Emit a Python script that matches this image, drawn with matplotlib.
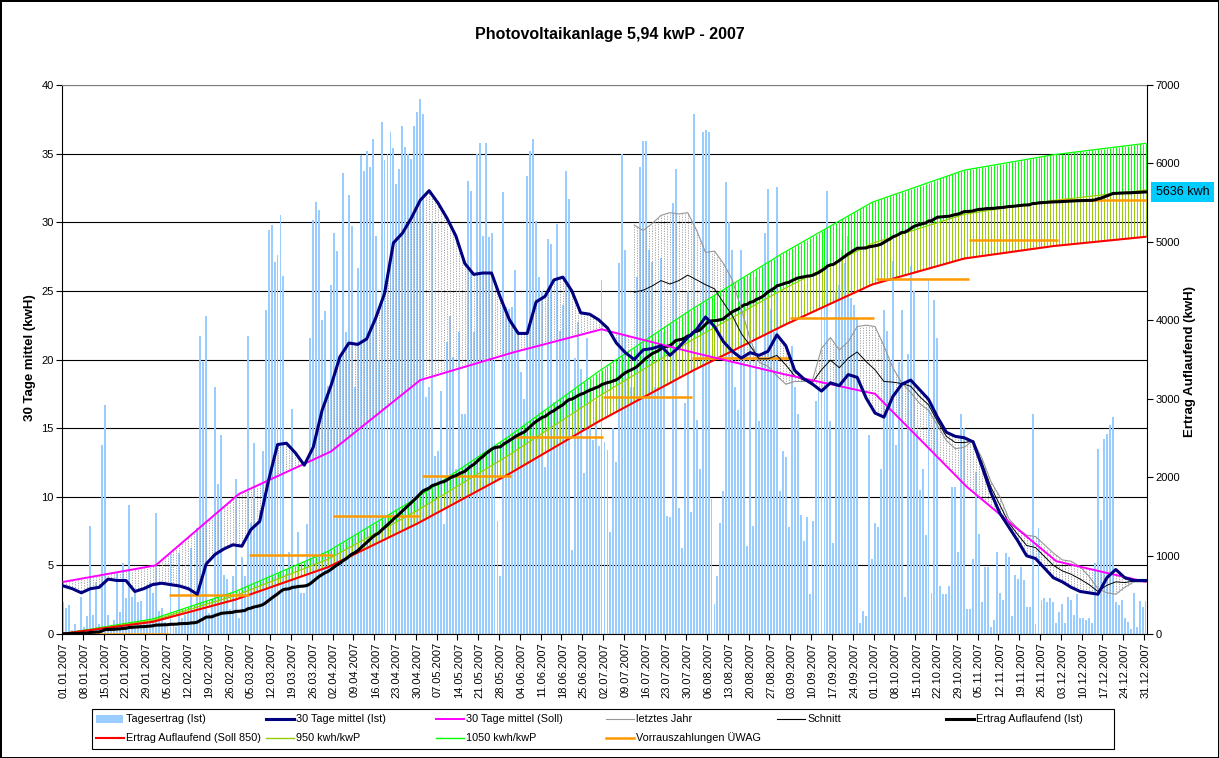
import datetime as dt
import numpy as np
import matplotlib
matplotlib.use("Agg")
import matplotlib.pyplot as plt
import matplotlib.transforms as mtransforms
from matplotlib.lines import Line2D
from matplotlib.patches import Rectangle

plt.rcParams["font.family"] = ["Liberation Sans", "DejaVu Sans"]

W, H = 1219, 758

# Tagesertrag (Ist) in kWh, je Monat
jan = [2.3, 1.9, 2.1, 0.3, 0.7, 0.3, 2.7, 0.5, 1.3, 7.9, 1.4, 3.8, 0.7, 13.8, 16.7, 1.4,
       0.5, 1.0, 4.5, 1.6, 5.2, 2.6, 9.4, 2.7, 3.1, 2.3, 2.4, 0.8, 3.6, 3.8, 3.0]
feb = [8.8, 1.7, 1.9, 0.9, 0.5, 5.9, 0.7, 0.5, 5.9, 1.2, 1.4, 1.6, 6.3, 1.6, 7.7, 21.7,
       19.8, 23.2, 1.5, 2.5, 18.0, 10.9, 14.5, 4.3, 4.0, 1.8, 4.2, 11.3]
mar = [1.2, 5.6, 4.2, 21.7, 8.1, 13.9, 8.0, 9.0, 13.3, 23.6, 29.4, 29.8, 27.1, 27.6, 30.5,
       26.1, 4.4, 6.0, 16.4, 4.0, 7.4, 3.0, 3.0, 8.0, 21.6, 30.2, 31.5, 30.9, 22.9, 23.5, 18.1]
apr = [25.4, 29.2, 27.9, 20.0, 33.6, 22.0, 32.0, 29.7, 18.0, 26.7, 34.9, 33.7, 35.2, 34.0,
       36.1, 29.0, 20.0, 37.3, 34.5, 35.0, 36.6, 35.4, 32.8, 33.9, 37.0, 35.5, 35.0, 34.6,
       37.0, 38.0]
mai = [39.0, 37.9, 17.3, 18.0, 30.0, 13.0, 13.3, 17.7, 8.0, 21.3, 23.2, 20.2, 12.0, 22.0,
       16.0, 16.0, 33.0, 32.3, 22.0, 35.0, 35.8, 29.0, 35.8, 28.9, 29.2, 20.0, 8.2, 4.2,
       32.2, 23.8, 23.7]
jun = [23.8, 26.5, 22.0, 19.1, 17.1, 33.4, 35.2, 36.1, 30.1, 26.0, 25.0, 12.2, 28.8, 28.4,
       16.9, 29.9, 22.1, 24.0, 33.7, 31.7, 6.1, 20.1, 22.7, 19.3, 11.7, 21.6, 18.0, 14.1,
       17.0, 13.7]
jul = [25.8, 14.0, 13.4, 7.4, 15.0, 12.5, 27.0, 35.0, 28.0, 20.0, 18.0, 18.0, 26.0, 34.0,
       35.9, 35.9, 28.0, 27.1, 18.0, 18.0, 27.4, 22.0, 8.6, 8.5, 31.4, 33.9, 9.2, 6.3, 16.8,
       25.0, 8.9]
aug = [37.9, 15.6, 12.0, 36.6, 36.7, 36.6, 9.8, 2.2, 4.2, 8.1, 10.4, 32.9, 30.0, 28.0, 18.0,
       16.3, 28.0, 26.0, 6.4, 26.0, 7.9, 26.0, 15.5, 20.0, 29.2, 32.4, 23.7, 22.0, 32.6, 10.4,
       13.3]
sep = [12.9, 7.8, 21.0, 18.0, 16.0, 8.7, 6.8, 8.5, 2.9, 8.2, 17.0, 18.0, 23.8, 26.0, 32.3,
       15.5, 6.6, 25.0, 25.4, 28.0, 27.0, 29.0, 24.5, 24.0, 23.0, 0.8, 1.7, 1.3, 14.5, 5.5]
okt = [8.1, 7.8, 12.0, 23.6, 22.1, 20.0, 27.2, 13.8, 19.8, 23.6, 2.7, 20.4, 26.8, 25.0, 14.8,
       10.5, 12.0, 7.2, 25.8, 3.0, 24.3, 21.6, 3.5, 2.9, 2.9, 3.5, 10.7, 10.7, 6.0, 16.0, 15.0]
nov = [1.8, 1.8, 5.5, 11.8, 7.3, 2.3, 4.9, 4.9, 0.5, 1.0, 6.0, 3.0, 2.5, 5.9, 5.6, 1.3, 4.3,
       4.0, 4.9, 3.9, 2.0, 2.0, 16.0, 0.7, 7.7, 2.5, 2.6, 2.3, 2.6, 2.3]
dez = [0.8, 1.6, 2.2, 0.8, 2.7, 2.5, 1.4, 2.9, 1.2, 1.2, 1.0, 1.2, 0.8, 5.2, 13.5, 8.3, 14.2,
       14.6, 15.2, 15.8, 2.3, 2.1, 2.5, 1.2, 0.9, 0.4, 3.0, 0.5, 2.4, 2.0, 2.4]

monatslaengen = [31, 28, 31, 30, 31, 30, 31, 31, 30, 31, 30, 31]

# Soll-Tagesertrag je Monat (kWh/Tag) bei 850 kWh/kWp
soll_tag = [5.0, 10.2, 13.3, 18.5, 20.5, 22.2, 20.5, 18.9, 17.5, 10.7, 5.3, 3.8]

mittel_tage = list(range(0, 364, 3)) + [364]
ist30 = [3.5, 3.3, 3.0, 3.3, 3.4, 4.0, 3.9, 3.9, 3.1, 3.3,
         3.6, 3.7, 3.6, 3.5, 3.3, 2.9, 5.1, 5.8, 6.2, 6.5,
         6.4, 7.6, 8.2, 11.2, 13.8, 13.9, 13.2, 12.3, 13.6, 16.3,
         18.1, 20.2, 21.2, 21.1, 21.5, 23.0, 24.8, 28.5, 29.2, 30.3,
         31.6, 32.3, 31.4, 30.3, 29.0, 27.0, 26.2, 26.3, 26.3, 24.5,
         22.9, 21.9, 21.9, 24.2, 24.6, 25.8, 26.0, 25.0, 23.4, 23.3,
         22.9, 22.3, 21.2, 20.5, 20.0, 20.7, 20.8, 21.0, 20.3, 20.9,
         21.6, 22.2, 23.1, 22.4, 21.3, 20.6, 20.1, 20.5, 20.3, 20.6,
         21.8, 21.0, 19.2, 18.6, 18.2, 17.7, 18.3, 18.1, 18.9, 18.7,
         17.2, 16.1, 15.8, 17.3, 18.2, 18.5, 17.8, 17.1, 15.8, 14.7,
         14.4, 14.3, 14.0, 12.2, 10.3, 8.8, 7.8, 6.8, 5.7, 5.5,
         4.8, 4.1, 3.8, 3.4, 3.1, 3.0, 2.9, 4.1, 4.7, 4.1,
         3.9, 3.9, 3.9]

# letztes Jahr (30 Tage mittel 2006), ab 11.07.
letztes_tage = list(range(192, 364, 3)) + [364]
letztes = [29.8, 29.4, 29.9, 30.5, 30.7, 30.6, 30.7, 29.4, 27.8, 27.9,
           27.0, 25.8, 23.7, 21.5, 19.8, 19.5, 18.8, 18.2, 18.4, 18.4,
           18.5, 20.8, 21.6, 20.7, 21.3, 22.4, 22.5, 22.4, 21.0, 19.4,
           18.3, 17.6, 16.8, 16.3, 15.2, 14.1, 13.5, 13.6, 14.1, 12.8,
           11.1, 10.0, 8.4, 7.7, 7.2, 7.1, 6.5, 5.9, 5.4, 5.3,
           4.9, 4.2, 3.3, 3.0, 2.9, 3.4, 3.8, 3.8, 3.8]

# Vorrauszahlungen UEWAG (kWh), Gueltigkeit von/bis Tag
vz_start = [0, 36, 63, 91, 121, 151, 182, 212, 245, 274, 305, 335]
vz_ende = [35, 62, 90, 119, 150, 181, 211, 244, 272, 304, 334, 364]
vz_wert = [0, 503, 1006, 1509, 2012, 2515, 3018, 3521, 4024, 4527, 5030, 5533]

kwp_stufen = [850, 950, 1050]

# --- abgeleitete Reihen ---
tagesertrag = np.array(jan + feb + mar + apr + mai + jun + jul + aug + sep + okt + nov + dez)
tage = np.arange(len(tagesertrag))
ist_cum = np.cumsum(tagesertrag)

soll850 = np.cumsum(np.repeat(soll_tag, monatslaengen))
soll950 = soll850 * kwp_stufen[1] / kwp_stufen[0]
soll1050 = soll850 * kwp_stufen[2] / kwp_stufen[0]

monatsanfang = np.concatenate([[0], np.cumsum(monatslaengen)[:-1]])
soll30_tage = list(monatsanfang) + [364]
soll30 = [soll_tag[-1]] + soll_tag[:-1] + [soll_tag[-1]]

ist30 = np.array(ist30)
letztes = np.array(letztes)
schnitt = (ist30[np.searchsorted(mittel_tage, letztes_tage)] + letztes) / 2

start = dt.date(2007, 1, 1)
xlabels = [(start + dt.timedelta(days=int(d))).strftime("%d.%m.%Y") for d in range(0, 365, 7)]

# --- Figur ---
fig = plt.figure(figsize=(W / 100, H / 100), dpi=100)
fig.patch.set_facecolor("white")
fig.patch.set_edgecolor("black")
fig.patch.set_linewidth(2)

rect = [62 / W, 1 - 634 / H, (1147 - 62) / W, (634 - 85) / H]
ax = fig.add_axes(rect)
ax.set_xlim(-0.5, 364.5)
ax.set_ylim(0, 40)
ax.set_yticks(range(0, 41, 5))
ax.yaxis.grid(True, color="black", lw=0.8)
ax.set_axisbelow(True)

ax.bar(tage, tagesertrag, width=0.65, color="#99CCFF", linewidth=0)

# Hoch-Tief-Linien zwischen den 30-Tage-Linien
ist_d = np.interp(tage, mittel_tage, ist30)
soll_d = np.interp(tage, soll30_tage, soll30)
letzt_d = np.interp(tage, letztes_tage, letztes)
hi = np.maximum(ist_d, soll_d)
lo = np.minimum(ist_d, soll_d)
m = tage >= letztes_tage[0]
hi[m] = np.maximum(hi[m], letzt_d[m])
lo[m] = np.minimum(lo[m], letzt_d[m])
ax.vlines(tage, lo, hi, colors="#9a9a9a", linestyles=(0, (1.5, 1.5)), lw=0.6)

for s in ["left", "bottom"]:
    ax.spines[s].set_color("black")
ax.spines["top"].set_color("#808080")
ax.spines["right"].set_visible(False)

ax.set_xticks(np.arange(0, 365, 7) - 0.5)
ax.set_xticklabels([])
ax.set_xticks(np.arange(0, 365, 7), minor=True)
ax.set_xticklabels(xlabels, minor=True, rotation=90, fontsize=8)
ax.tick_params(axis="x", which="major", length=4, direction="out")
ax.tick_params(axis="x", which="minor", length=0, pad=6)
ax.tick_params(axis="y", length=4, direction="out", labelsize=8, pad=2)

# Sekundaerachse: aufgelaufener Ertrag
ax2 = ax.twinx()
ax2.set_ylim(0, 7000)
ax2.set_yticks(range(0, 7001, 1000))
ax2.tick_params(axis="y", length=4, direction="out", labelsize=8, pad=2)
for s in ["left", "top", "bottom"]:
    ax2.spines[s].set_visible(False)
ax2.spines["right"].set_color("black")

ax2.vlines(tage, soll950, soll1050, colors="#00FF00", lw=0.7)
ax2.vlines(tage, soll850, soll950, colors="#99CC00", lw=0.7)
ax2.plot(tage, soll1050, color="#00FF00", lw=0.9)
ax2.plot(tage, soll950, color="#99CC00", lw=0.9)
ax2.plot(tage, soll850, color="#FF0000", lw=1.5)
ax2.hlines(vz_wert, np.array(vz_start) - 0.5, np.array(vz_ende) + 0.5, colors="#FF9900", lw=1.8)
ax2.plot(tage, ist_cum, color="black", lw=2.2)

trans = mtransforms.blended_transform_factory(ax2.transAxes, ax2.transData)
ax2.text(1.0327, ist_cum[-1], f"{ist_cum[-1]:.0f} kwh", transform=trans, ha="center",
         va="center", fontsize=9,
         bbox=dict(boxstyle="square,pad=0.35", fc="#00CCFF", ec="none"))

# 30-Tage-Linien oben
ax3 = ax.twinx()
ax3.set_ylim(0, 40)
ax3.yaxis.set_visible(False)
for s in ax3.spines.values():
    s.set_visible(False)
ax3.plot(letztes_tage, letztes, color="#969696", lw=0.8)
ax3.plot(letztes_tage, schnitt, color="black", lw=0.7)
ax3.plot(soll30_tage, soll30, color="#FF00FF", lw=1.4)
ax3.plot(mittel_tage, ist30, color="#000080", lw=2.2)

fig.text(0.5, 1 - 35 / H, "Photovoltaikanlage 5,94 kwP - 2007", ha="center", va="center",
         fontsize=11.5, fontweight="bold")
fig.text(30 / W, 1 - 358 / H, "30 Tage mittel (kwH)", rotation=90, ha="center", va="center",
         fontsize=9.5, fontweight="bold")
fig.text(1190 / W, 1 - 362 / H, "Ertrag Auflaufend (kwH)", rotation=90, ha="center",
         va="center", fontsize=9.5, fontweight="bold")

# Legende (gleich breite Spalten wie im Original)
def fx(x):
    return x / W

def fy(y):
    return 1 - y / H

fig.add_artist(Rectangle((fx(92), fy(749)), (1114 - 92) / W, 40 / H, fill=False,
                         ec="black", lw=0.8, transform=fig.transFigure))
spalten = [96, 266, 436, 606, 777, 946]
zeilen = [719, 738]
eintraege = [
    ("Tagesertrag (Ist)", "bar", "#99CCFF", 0),
    ("30 Tage mittel (Ist)", "line", "#000080", 2.2),
    ("30 Tage mittel (Soll)", "line", "#FF00FF", 1.4),
    ("letztes Jahr", "line", "#969696", 0.8),
    ("Schnitt", "line", "black", 0.8),
    ("Ertrag Auflaufend (Ist)", "line", "black", 2.2),
    ("Ertrag Auflaufend (Soll 850)", "line", "#FF0000", 1.5),
    ("950 kwh/kwP", "line", "#99CC00", 1.0),
    ("1050 kwh/kwP", "line", "#00FF00", 1.0),
    ("Vorrauszahlungen ÜWAG", "line", "#FF9900", 1.8),
]
for i, (txt, art, col, lw) in enumerate(eintraege):
    x0 = spalten[i % 6]
    y0 = zeilen[i // 6]
    if art == "bar":
        fig.add_artist(Rectangle((fx(x0), fy(y0 + 4)), 27 / W, 8 / H, fc=col, ec="none",
                                 transform=fig.transFigure))
    else:
        fig.add_artist(Line2D([fx(x0), fx(x0 + 28)], [fy(y0), fy(y0)], color=col, lw=lw,
                              transform=fig.transFigure))
    fig.text(fx(x0 + 30), fy(y0), txt, ha="left", va="center", fontsize=7.8)

fig.savefig("out.png", dpi=100)
